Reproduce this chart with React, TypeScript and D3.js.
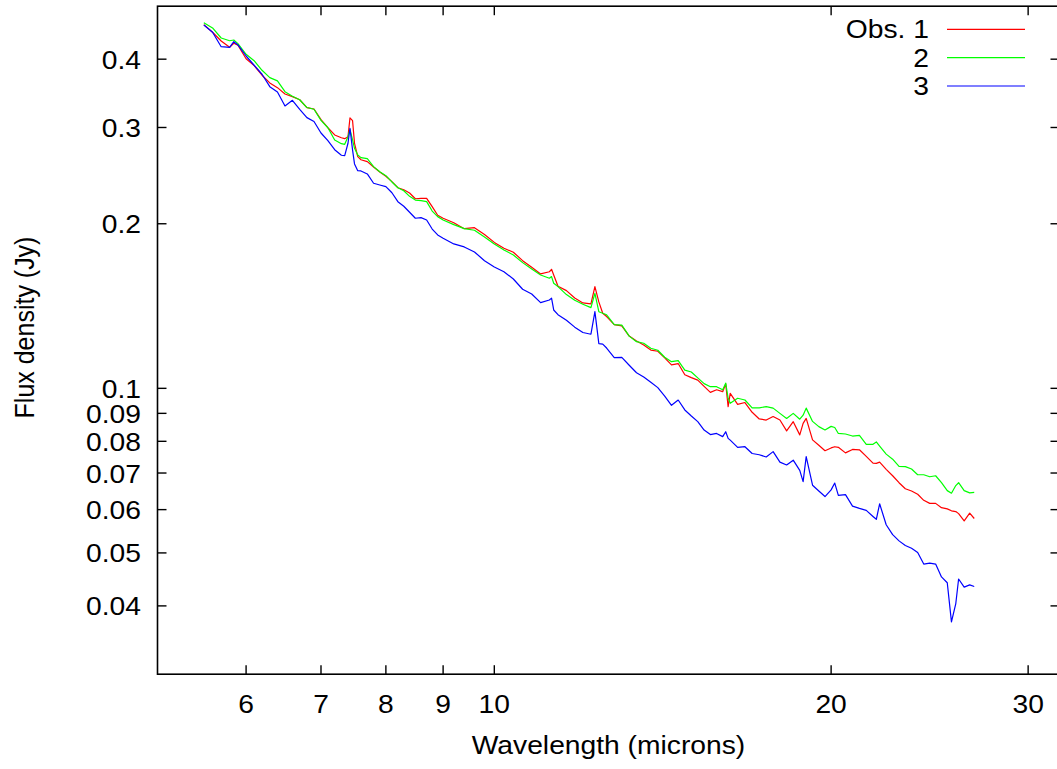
import React from "react";
import * as d3 from "d3";

// Wavelength grid (microns)
const wavelengths = [
  5.5, 5.6, 5.7, 5.8, 5.85, 5.9, 6.0, 6.1, 6.2, 6.3, 6.4, 6.5, 6.6, 6.7, 6.8, 6.9,
  7.0, 7.1, 7.2, 7.3, 7.35, 7.4, 7.43, 7.47, 7.5, 7.55, 7.6, 7.7, 7.8, 7.9,
  8.0, 8.1, 8.2, 8.3, 8.4, 8.5, 8.6, 8.7, 8.8, 8.9, 9.0, 9.2, 9.4, 9.6, 9.8,
  10.0, 10.2, 10.4, 10.6, 10.8, 11.0, 11.2, 11.25, 11.3, 11.4, 11.6, 11.8,
  12.0, 12.2, 12.3, 12.4, 12.5, 12.6, 12.8, 13.0, 13.2, 13.4, 13.6, 13.8,
  14.0, 14.2, 14.4, 14.6, 14.8, 15.0, 15.2, 15.4, 15.6, 15.8, 16.0, 16.1,
  16.18, 16.25, 16.5, 16.75, 17.0, 17.25, 17.5, 17.75, 18.0, 18.25, 18.5,
  18.75, 18.88, 19.0, 19.25, 19.5, 19.75, 20.0, 20.15, 20.3, 20.6, 20.9,
  21.2, 21.5, 21.8, 21.95, 22.1, 22.4, 22.7, 23.0, 23.3, 23.6, 23.9, 24.2,
  24.5, 24.8, 25.1, 25.4, 25.62, 25.85, 26.0, 26.3, 26.6, 26.85,
];

// Obs. 1 (red), flux density in Jy
const obs1 = [
  0.4626, 0.448, 0.4318, 0.4205, 0.4277, 0.4241, 0.4008, 0.3893, 0.3739, 0.3619, 0.3548, 0.3455, 0.3416, 0.3372, 0.3261, 0.3243,
  0.31, 0.2997, 0.2907, 0.2873, 0.2862, 0.2886, 0.3123, 0.3087, 0.2807, 0.2653, 0.2619, 0.2598, 0.254, 0.2487,
  0.2443, 0.2388, 0.2328, 0.2308, 0.2277, 0.2222, 0.2226, 0.2226, 0.2149, 0.2073, 0.2047, 0.2009, 0.1959, 0.1967, 0.1912,
  0.1849, 0.1804, 0.1774, 0.1712, 0.1665, 0.1619, 0.1634, 0.1651, 0.1612, 0.1537, 0.1509, 0.1463,
  0.1433, 0.1427, 0.1535, 0.1439, 0.1372, 0.1353, 0.1308, 0.1301, 0.1246, 0.1221, 0.12, 0.1175,
  0.1169, 0.1137, 0.1104, 0.111, 0.1059, 0.1046, 0.1035, 0.1008, 0.0983, 0.0994, 0.0986, 0.1019,
  0.0926, 0.0979, 0.0935, 0.0942, 0.0904, 0.0879, 0.0875, 0.0888, 0.0875, 0.0836, 0.0869,
  0.0822, 0.0863, 0.0881, 0.0805, 0.0787, 0.0769, 0.0778, 0.0782, 0.078, 0.0762, 0.0773,
  0.0772, 0.0751, 0.073, 0.0729, 0.0733, 0.0711, 0.0692, 0.0672, 0.0655, 0.0649, 0.064, 0.0624,
  0.0616, 0.0616, 0.0605, 0.0602, 0.0597, 0.0595, 0.059, 0.0572, 0.0591, 0.0578,
];

// Obs. 2 (green)
const obs2 = [
  0.4665, 0.4562, 0.4373, 0.4323, 0.4336, 0.427, 0.4083, 0.3975, 0.3817, 0.3701, 0.365, 0.3488, 0.3422, 0.3372, 0.3263, 0.3239,
  0.3092, 0.2997, 0.2846, 0.2802, 0.2795, 0.2886, 0.2977, 0.2846, 0.2748, 0.2672, 0.2642, 0.2631, 0.2544, 0.249,
  0.2449, 0.2385, 0.2328, 0.2298, 0.2245, 0.221, 0.2204, 0.2195, 0.211, 0.2061, 0.2032, 0.1993, 0.1959, 0.1946, 0.1892,
  0.1837, 0.1791, 0.1754, 0.1698, 0.1653, 0.1612, 0.159, 0.1601, 0.1557, 0.1535, 0.1484, 0.1449,
  0.1425, 0.1405, 0.1492, 0.1381, 0.1372, 0.1363, 0.1308, 0.1305, 0.1246, 0.1217, 0.1209, 0.1184,
  0.1174, 0.114, 0.1119, 0.1124, 0.108, 0.1071, 0.1045, 0.102, 0.1007, 0.1007, 0.0994, 0.1022,
  0.0959, 0.0939, 0.0959, 0.0952, 0.0921, 0.0921, 0.0926, 0.092, 0.09, 0.0881, 0.09,
  0.0878, 0.0893, 0.092, 0.087, 0.0851, 0.0839, 0.0852, 0.0848, 0.0827, 0.0825, 0.0818,
  0.082, 0.079, 0.079, 0.0798, 0.0784, 0.0758, 0.0742, 0.072, 0.0719, 0.0712, 0.0695, 0.0695,
  0.0689, 0.0692, 0.0672, 0.065, 0.0643, 0.0664, 0.0672, 0.065, 0.0644, 0.0645,
];

// Obs. 3 (blue)
const obs3 = [
  0.4621, 0.448, 0.4216, 0.4205, 0.4306, 0.4247, 0.4054, 0.3899, 0.3754, 0.3563, 0.3484, 0.3285, 0.3364, 0.3239, 0.3127, 0.3077,
  0.2931, 0.2838, 0.2732, 0.2669, 0.2664, 0.2807, 0.299, 0.2728, 0.2573, 0.2501, 0.2498, 0.2467, 0.2372, 0.2355,
  0.2338, 0.2279, 0.2195, 0.2153, 0.2099, 0.2047, 0.2052, 0.2032, 0.1956, 0.1908, 0.1882, 0.1837, 0.1814, 0.1776, 0.1712,
  0.1667, 0.1634, 0.1585, 0.1518, 0.1488, 0.1435, 0.1451, 0.1462, 0.1391, 0.1364, 0.1332, 0.1294,
  0.1265, 0.1256, 0.1381, 0.1207, 0.1205, 0.1185, 0.1138, 0.1139, 0.1102, 0.1068, 0.1049, 0.1026,
  0.1003, 0.0968, 0.0931, 0.0952, 0.0913, 0.089, 0.0869, 0.0839, 0.0823, 0.0827, 0.0816, 0.0833,
  0.081, 0.0804, 0.078, 0.0782, 0.076, 0.0756, 0.0749, 0.0766, 0.0733, 0.0724, 0.0739,
  0.0708, 0.0675, 0.075, 0.0665, 0.0649, 0.0634, 0.0652, 0.0671, 0.0637, 0.0639, 0.0609,
  0.0603, 0.0598, 0.0583, 0.0576, 0.0615, 0.0563, 0.054, 0.0526, 0.0516, 0.051, 0.0501, 0.0477,
  0.0479, 0.0477, 0.0452, 0.0441, 0.0374, 0.0404, 0.0448, 0.0433, 0.0437, 0.0434,
];

const seriesNames = ["Obs. 1", "2", "3"];
const seriesColors = ["#ff0000", "#00ff00", "#0000ff"];
const xTicks = [6, 7, 8, 9, 10, 20, 30];
const yTicks = [0.04, 0.05, 0.06, 0.07, 0.08, 0.09, 0.1, 0.2, 0.3, 0.4];

const W = 1057;
const H = 769;
const FONT = "'Liberation Sans', Arial, Helvetica, sans-serif";
const FS = 25;
const SX = 1.13;

export default function App() {
  const x = d3.scaleLog().domain([5, 32]).range([157.5, 1059.5]);
  const y = d3.scaleLog().domain([0.03, 0.5]).range([674.2, 6.2]);
  const [x0, x1] = x.range();
  const [yb, yt] = y.range();
  const all = [obs1, obs2, obs3];
  const line = (vals: number[]) =>
    d3
      .line<number>()
      .x((_, i) => x(wavelengths[i]))
      .y((d) => y(d))(vals) || "";
  const T = (tx: number, ty: number, anchor: string, s: string, key?: any) => (
    <text
      key={key}
      transform={`translate(${tx},${ty}) scale(${SX},1)`}
      textAnchor={anchor}
      fontFamily={FONT}
      fontSize={FS}
      fill="#000"
    >
      {s}
    </text>
  );
  const tickLen = 9;
  return (
    <svg
      width={W}
      height={H}
      style={{ position: "absolute", left: 0, top: 0, background: "#fff" }}
    >
      <rect x={0} y={0} width={W} height={H} fill="#fff" />
      {all.map((vals, k) => (
        <path
          key={k}
          d={line(vals)}
          fill="none"
          stroke={seriesColors[k]}
          strokeWidth={1.2}
          strokeLinejoin="round"
        />
      ))}
      <rect
        x={x0}
        y={yt}
        width={x1 - x0}
        height={yb - yt}
        fill="none"
        stroke="#000"
        strokeWidth={1.6}
      />
      {xTicks.map((t) => (
        <g key={"xt" + t}>
          <line x1={x(t)} x2={x(t)} y1={yb} y2={yb - tickLen} stroke="#000" strokeWidth={1.4} />
          <line x1={x(t)} x2={x(t)} y1={yt} y2={yt + tickLen} stroke="#000" strokeWidth={1.4} />
          {T(x(t), 712.5, "middle", String(t))}
        </g>
      ))}
      {yTicks.map((t) => (
        <g key={"yt" + t}>
          <line x1={x0} x2={x0 + tickLen} y1={y(t)} y2={y(t)} stroke="#000" strokeWidth={1.4} />
          <line x1={x1} x2={x1 - tickLen} y1={y(t)} y2={y(t)} stroke="#000" strokeWidth={1.4} />
          {T(141, y(t) + 9.5, "end", String(t))}
        </g>
      ))}
      {T((x0 + x1) / 2, 754, "middle", "Wavelength (microns)")}
      <text
        transform={`translate(34,327.5) scale(${SX},1) rotate(-90)`}
        textAnchor="middle"
        fontFamily={FONT}
        fontSize={FS}
        fill="#000"
      >
        Flux density (Jy)
      </text>
      {seriesNames.map((n, i) => (
        <g key={"lg" + i}>
          {T(929, 38.3 + i * 28.35, "end", n)}
          <line
            x1={947}
            x2={1025}
            y1={29.3 + i * 28.35}
            y2={29.3 + i * 28.35}
            stroke={seriesColors[i]}
            strokeWidth={1.2}
          />
        </g>
      ))}
    </svg>
  );
}
